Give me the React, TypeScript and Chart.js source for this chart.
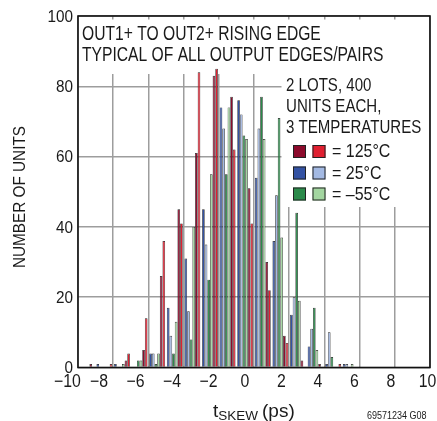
import { useEffect, useRef } from "react";
import { Chart, registerables } from "chart.js";

Chart.register(...registerables);

// Histogram bins (1 ps wide), centres in ps
const binCenters = [
  -9.5, -8.5, -7.5, -6.5, -5.5, -4.5, -3.5, -2.5, -1.5, -0.5,
  0.5, 1.5, 2.5, 3.5, 4.5, 5.5, 6.5, 7.5, 8.5, 9.5,
];

// Number of units per bin, one array per lot / temperature
const lotA_25C = [0, 1, 1, 0, 4, 17, 31, 45, 74, 76, 54, 36, 15, 6, 1, 1, 0, 0, 0, 0];
const lotB_25C = [0, 0, 0, 0, 4, 9, 16, 35, 68, 72, 68, 49, 20, 11, 10, 1, 0, 0, 0, 0];
const lotA_m55C = [0, 0, 0, 2, 1, 4, 8, 25, 55, 66, 77, 71, 44, 17, 3, 0, 0, 0, 0, 0];
const lotB_m55C = [0, 0, 1, 2, 4, 13, 40, 55, 74, 65, 65, 37, 19, 5, 0, 1, 0, 0, 0, 0];
const lotA_125C = [1, 0, 2, 5, 26, 45, 61, 83, 77, 51, 30, 9, 2, 1, 0, 0, 0, 0, 0, 0];
const lotB_125C = [0, 1, 4, 14, 36, 41, 84, 85, 62, 41, 22, 7, 0, 0, 1, 0, 0, 0, 0, 0];

const xTickValues = [-10, -8, -6, -4, -2, 0, 2, 4, 6, 8, 10];
const yTickValues = [0, 20, 40, 60, 80, 100];

const titleLines = ["OUT1+ TO OUT2+ RISING EDGE", "TYPICAL OF ALL OUTPUT EDGES/PAIRS"];
const noteLines = ["2 LOTS, 400", "UNITS EACH,", "3 TEMPERATURES"];
const legendLabels = ["= 125°C", "= 25°C", "= –55°C"];

const C_DR = "#8c0b2c";
const C_R = "#e01f30";
const C_DB = "#3352a3";
const C_LB = "#a3b9e3";
const C_DG = "#2b8a4a";
const C_LG = "#a3d6a0";

const FONT = '"Liberation Sans", Arial, sans-serif';
const INK = "#1a1a1a";

function txt(
  ctx: CanvasRenderingContext2D,
  s: string,
  x: number,
  y: number,
  size: number,
  sx: number,
  align: CanvasTextAlign = "left",
  baseline: CanvasTextBaseline = "middle"
) {
  ctx.save();
  ctx.font = `${size}px ${FONT}`;
  ctx.fillStyle = INK;
  ctx.textAlign = align;
  ctx.textBaseline = baseline;
  ctx.translate(x, y);
  ctx.scale(sx, 1);
  ctx.fillText(s, 0, 0);
  ctx.restore();
}

const overlayPlugin = {
  id: "overlay",
  beforeDatasetsDraw(chart: any) {
    const { ctx, chartArea: a } = chart;
    ctx.save();
    ctx.fillStyle = "#ffffff";
    ctx.fillRect(a.left + 1, a.top + 3.5, a.right - a.left - 2, 74 - (a.top + 3.5));
    ctx.fillRect(281.5, 73, a.right - 1 - 281.5, 207 - 73);
    ctx.restore();
  },
  afterDatasetsDraw(chart: any) {
    const { ctx, chartArea: a } = chart;
    const xs = chart.scales.xl;
    const ys = chart.scales.y;
    ctx.save();
    // frame
    ctx.strokeStyle = "#111";
    ctx.lineWidth = 1.6;
    ctx.strokeRect(a.left, a.top, a.right - a.left, a.bottom - a.top);
    ctx.restore();

    // tick labels (positions from the library scales)
    const x0 = xs.getPixelForValue(0);
    const xUnit = xs.getPixelForValue(1) - x0;
    for (const v of xTickValues) {
      const px = x0 - 9 + v * xUnit * 1.037 + (v === -10 ? 5 : 0);
      txt(ctx, String(v).replace("-", "−"), px, a.bottom + 15, 18, 0.88, "center");
    }
    for (const v of yTickValues) {
      txt(ctx, String(v), a.left - 5, ys.getPixelForValue(v) + 1, 17, 0.9, "right");
    }

    txt(ctx, titleLines[0], 82, 34.5, 21, 0.745);
    txt(ctx, titleLines[1], 82, 55, 21, 0.745);

    txt(ctx, noteLines[0], 286, 86, 18.6, 0.81);
    txt(ctx, noteLines[1], 286, 107, 18.6, 0.81);
    txt(ctx, noteLines[2], 286, 128, 18.6, 0.81);

    const sw = [
      [C_DR, C_R],
      [C_DB, C_LB],
      [C_DG, C_LG],
    ];
    const rowY = [151.5, 173, 194];
    ctx.save();
    for (let i = 0; i < 3; i++) {
      const y = rowY[i];
      for (let j = 0; j < 2; j++) {
        const x = 293 + j * 19.5;
        ctx.fillStyle = sw[i][j];
        ctx.fillRect(x, y - 6.5, 13, 13);
        ctx.strokeStyle = "#222";
        ctx.lineWidth = 1;
        ctx.strokeRect(x + 0.5, y - 6, 12, 12);
      }
    }
    ctx.restore();
    for (let i = 0; i < 3; i++) {
      txt(ctx, legendLabels[i], 332, rowY[i] + 0.5, 18.6, 0.86);
    }

    // y axis title
    ctx.save();
    ctx.translate(20, 197);
    ctx.rotate(-Math.PI / 2);
    txt(ctx, "NUMBER OF UNITS", 0, 0, 17, 0.9, "center");
    ctx.restore();

    // x axis title with subscript
    ctx.save();
    ctx.font = `19px ${FONT}`;
    let x = 213;
    txt(ctx, "t", x, 417, 19, 1, "left", "alphabetic");
    x += ctx.measureText("t").width;
    ctx.font = `13.5px ${FONT}`;
    txt(ctx, "SKEW", x, 420, 13.5, 1, "left", "alphabetic");
    x += ctx.measureText("SKEW").width + 4;
    txt(ctx, "(ps)", x, 417, 19, 1, "left", "alphabetic");
    ctx.restore();

    txt(ctx, "69571234 G08", 367, 419, 10, 0.9, "left", "alphabetic");
  },
};

export default function App() {
  const ref = useRef<HTMLCanvasElement | null>(null);

  useEffect(() => {
    if (!ref.current) return;
    const series = [
      { label: "Lot A 25°C", data: lotA_25C, color: C_DB },
      { label: "Lot B 25°C", data: lotB_25C, color: C_LB },
      { label: "Lot A −55°C", data: lotA_m55C, color: C_DG },
      { label: "Lot B −55°C", data: lotB_m55C, color: C_LG },
      { label: "Lot A 125°C", data: lotA_125C, color: C_DR },
      { label: "Lot B 125°C", data: lotB_125C, color: C_R },
    ];
    const chart = new Chart(ref.current, {
      type: "bar",
      data: {
        labels: binCenters.map(String),
        datasets: series.map((s) => ({
          label: s.label,
          data: s.data.map((v) => (v === 0 ? null : v)),
          backgroundColor: s.color,
          borderColor: "#222222",
          borderWidth: 0.7,
          borderSkipped: "start",
          categoryPercentage: 0.9,
          barPercentage: 1,
          xAxisID: "x",
          yAxisID: "y",
        })),
      },
      options: {
        animation: false,
        responsive: false,
        layout: { padding: { top: 16, right: 7, left: 0, bottom: 0 } },
        plugins: { legend: { display: false }, tooltip: { enabled: false } },
        scales: {
          x: { type: "category", display: false, offset: true },
          xl: {
            type: "linear",
            position: "bottom",
            min: -10,
            max: 10,
            offset: false,
            afterBuildTicks: (s: any) => {
              s.ticks = xTickValues.map((v) => ({ value: v }));
            },
            ticks: { display: false },
            grid: { color: "#9d9d9d", lineWidth: 1.5, drawTicks: false, offset: false },
            border: { display: false },
            afterFit: (s: any) => {
              s.height = 421 - 367.5;
              s.paddingLeft = 0;
              s.paddingRight = 0;
            },
          },
          y: {
            min: 0,
            max: 100,
            afterBuildTicks: (s: any) => {
              s.ticks = yTickValues.map((v) => ({ value: v }));
            },
            ticks: { display: false },
            grid: { color: "#9d9d9d", lineWidth: 1.5, drawTicks: false },
            border: { display: false },
            afterFit: (s: any) => {
              s.width = 78;
              s.paddingTop = 0;
              s.paddingBottom = 0;
            },
          },
        },
      } as any,
      plugins: [overlayPlugin],
    });
    return () => chart.destroy();
  }, []);

  return (
    <div style={{ position: "fixed", left: 0, top: 0, width: 437, height: 421, background: "#fff" }}>
      <canvas ref={ref} width={437} height={421} style={{ display: "block" }} />
    </div>
  );
}
